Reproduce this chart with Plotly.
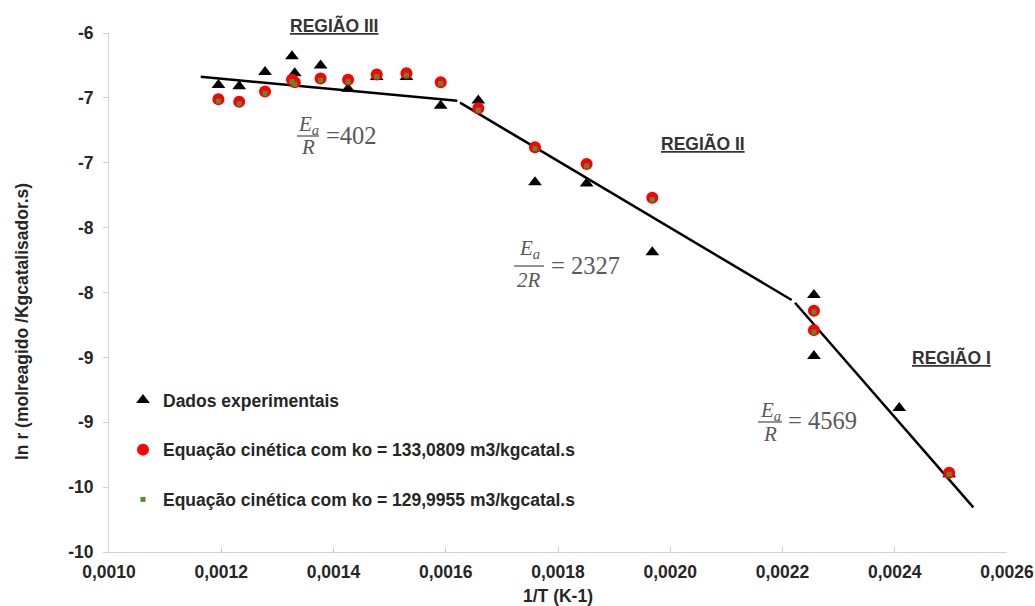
import plotly.graph_objects as go

# ---- data -------------------------------------------------------------
# 1/T (K^-1) and ln r for the experimental runs
x_exp = [0.001195, 0.001232, 0.001278, 0.001326, 0.001331, 0.001377, 0.001426,
         0.001477, 0.001530, 0.001591, 0.001658, 0.001759, 0.001851, 0.001968,
         0.002256, 0.002256, 0.002408, 0.002497]
y_exp = [-6.40, -6.41, -6.30, -6.18, -6.31, -6.25, -6.43,
         -6.34, -6.34, -6.56, -6.52, -7.15, -7.16, -7.69,
         -8.02, -8.49, -8.89, -9.40]

# kinetic model predictions (two pre-exponential factors)
x_model = [0.001195, 0.001232, 0.001278, 0.001326, 0.001331, 0.001377, 0.001426,
           0.001477, 0.001530, 0.001591, 0.001658, 0.001759, 0.001851, 0.001968,
           0.002256, 0.002256, 0.002497]
y_ko_133 = [-6.51, -6.53, -6.45, -6.36, -6.38, -6.35, -6.36,
            -6.32, -6.31, -6.38, -6.58, -6.88, -7.01, -7.27,
            -8.14, -8.29, -9.39]
y_ko_130 = [-6.525, -6.545, -6.465, -6.375, -6.395, -6.365, -6.375,
            -6.335, -6.325, -6.39, -6.595, -6.89, -7.025, -7.285,
            -8.15, -8.305, -9.40]

# linear fits for the three regimes (end points)
fit3_x = [0.0011634, 0.0016206]
fit3_y = [-6.337, -6.522]
fit2_x = [0.0016254, 0.0022164]
fit2_y = [-6.537, -8.058]
fit1_x = [0.0022223, 0.0025400]
fit1_y = [-8.079, -9.656]

# axis ticks
x_tickvals = [0.0010, 0.0012, 0.0014, 0.0016, 0.0018, 0.0020, 0.0022, 0.0024, 0.0026]
x_ticktext = ["0,0010", "0,0012", "0,0014", "0,0016", "0,0018", "0,0020", "0,0022", "0,0024", "0,0026"]
y_tickvals = [-6, -6.5, -7, -7.5, -8, -8.5, -9, -9.5, -10]
y_ticktext = ["-6", "-7", "-7", "-8", "-8", "-9", "-9", "-10", "-10"]

# ---- layout helpers ------------------------------------------------------
W, H = 1035, 606
L, R, T, B = 109, 1007, 33, 552


def px(x):
    return (x - L) / (R - L)


def py(y):
    return (B - y) / (B - T)


SANS = "Liberation Sans, Arial, sans-serif"
SERIF = "Liberation Serif, Times New Roman, serif"
TXT = "#262626"
EQ = "#595959"
AXIS = "#d0d0d0"
FS = 17.5

fig = go.Figure()

for fx, fy in [(fit3_x, fit3_y), (fit2_x, fit2_y), (fit1_x, fit1_y)]:
    fig.add_trace(go.Scatter(x=fx, y=fy, mode="lines",
                             line=dict(color="black", width=2.5),
                             showlegend=False, hoverinfo="skip"))

fig.add_trace(go.Scatter(
    x=x_exp, y=y_exp, mode="markers", name="Dados experimentais",
    legendgroup="a",
    marker=dict(symbol="triangle-up", size=12, color="black")))
fig.add_trace(go.Scatter(
    x=x_model, y=y_ko_133, mode="markers",
    name="Equação cinética com ko = 133,0809 m3/kgcatal.s",
    legendgroup="b",
    marker=dict(symbol="circle", size=12, color="#ff0000")))
fig.add_trace(go.Scatter(
    x=x_model, y=y_ko_130, mode="markers",
    name="Equação cinética com ko = 129,9955 m3/kgcatal.s",
    legendgroup="c",
    marker=dict(symbol="square", size=5, color="#4f8f32")))

annotations = []

# y-axis title, placed as a rotated label
annotations.append(dict(text="<b>ln r (molreagido /Kgcatalisador.s)</b>", textangle=-90,
                        x=px(22), y=py(322), xref="paper", yref="paper", showarrow=False,
                        xanchor="center", yanchor="middle",
                        font=dict(family=SANS, size=FS, color=TXT)))

# region labels
for text, cx, cy in [("REGIÃO III", 334, 25), ("REGIÃO II", 703, 143), ("REGIÃO I", 951, 358)]:
    annotations.append(dict(text=f"<b><u>{text}</u></b>", x=px(cx), y=py(cy),
                            xref="paper", yref="paper", showarrow=False,
                            xanchor="center", yanchor="middle",
                            font=dict(family=SANS, size=FS, color="#333333")))

# activation energy fractions
shapes = []
fractions = [
    # numerator, denominator, rhs, centre x, numerator y, bar y, denominator y, bar half width, rhs left x, rhs y
    ("E<sub>a</sub>", "R", "=402", 308, 125, 136, 147, 11, 324, 135),
    ("E<sub>a</sub>", "2R", "= 2327", 529, 249, 266, 280, 15, 549, 265),
    ("E<sub>a</sub>", "R", "= 4569", 770, 411, 422, 434, 12, 786, 420),
]
for num, den, rhs, cx, ny, by, dy, hw, rx, ry in fractions:
    annotations.append(dict(text=f"<i>{num}</i>", x=px(cx), y=py(ny), xref="paper", yref="paper",
                            showarrow=False, xanchor="center", yanchor="middle",
                            font=dict(family=SERIF, size=21, color=EQ)))
    annotations.append(dict(text=f"<i>{den}</i>", x=px(cx), y=py(dy), xref="paper", yref="paper",
                            showarrow=False, xanchor="center", yanchor="middle",
                            font=dict(family=SERIF, size=21, color=EQ)))
    annotations.append(dict(text=rhs, x=px(rx), y=py(ry), xref="paper", yref="paper",
                            showarrow=False, xanchor="left", yanchor="middle",
                            font=dict(family=SERIF, size=24.5, color=EQ)))
    shapes.append(dict(type="line", xref="paper", yref="paper",
                       x0=px(cx - hw), x1=px(cx + hw), y0=py(by), y1=py(by),
                       line=dict(color=EQ, width=1.3)))

fig.update_layout(
    width=W, height=H,
    margin=dict(l=L, r=W - R, t=T, b=H - B, pad=0, autoexpand=False),
    plot_bgcolor="white", paper_bgcolor="white",
    font=dict(family=SANS, size=FS, color=TXT),
    showlegend=True,
    legend=dict(x=px(123), y=py(382), xanchor="left", yanchor="top",
                bgcolor="rgba(0,0,0,0)", tracegroupgap=24,
                font=dict(family=SANS, size=FS, color=TXT, weight="bold")),
    annotations=annotations,
    shapes=shapes,
    xaxis=dict(range=[0.0010, 0.0026], tickvals=x_tickvals, ticktext=x_ticktext,
               automargin=False,
               showgrid=False, zeroline=False, showline=True, linecolor=AXIS, linewidth=1,
               ticks="inside", ticklen=5, tickcolor=AXIS, ticklabelstandoff=4,
               tickfont=dict(family=SANS, size=FS, color=TXT, weight="bold"),
               title=dict(text="1/T (K-1)", standoff=10,
                          font=dict(family=SANS, size=FS, color=TXT, weight="bold"))),
    yaxis=dict(range=[-10, -6], tickvals=y_tickvals, ticktext=y_ticktext,
               automargin=False,
               showgrid=False, zeroline=False, showline=True, linecolor=AXIS, linewidth=1,
               ticks="outside", ticklen=5, tickcolor=AXIS, ticklabelstandoff=6,
               tickfont=dict(family=SANS, size=FS, color=TXT, weight="bold")),
)

fig.write_html("out.html")
